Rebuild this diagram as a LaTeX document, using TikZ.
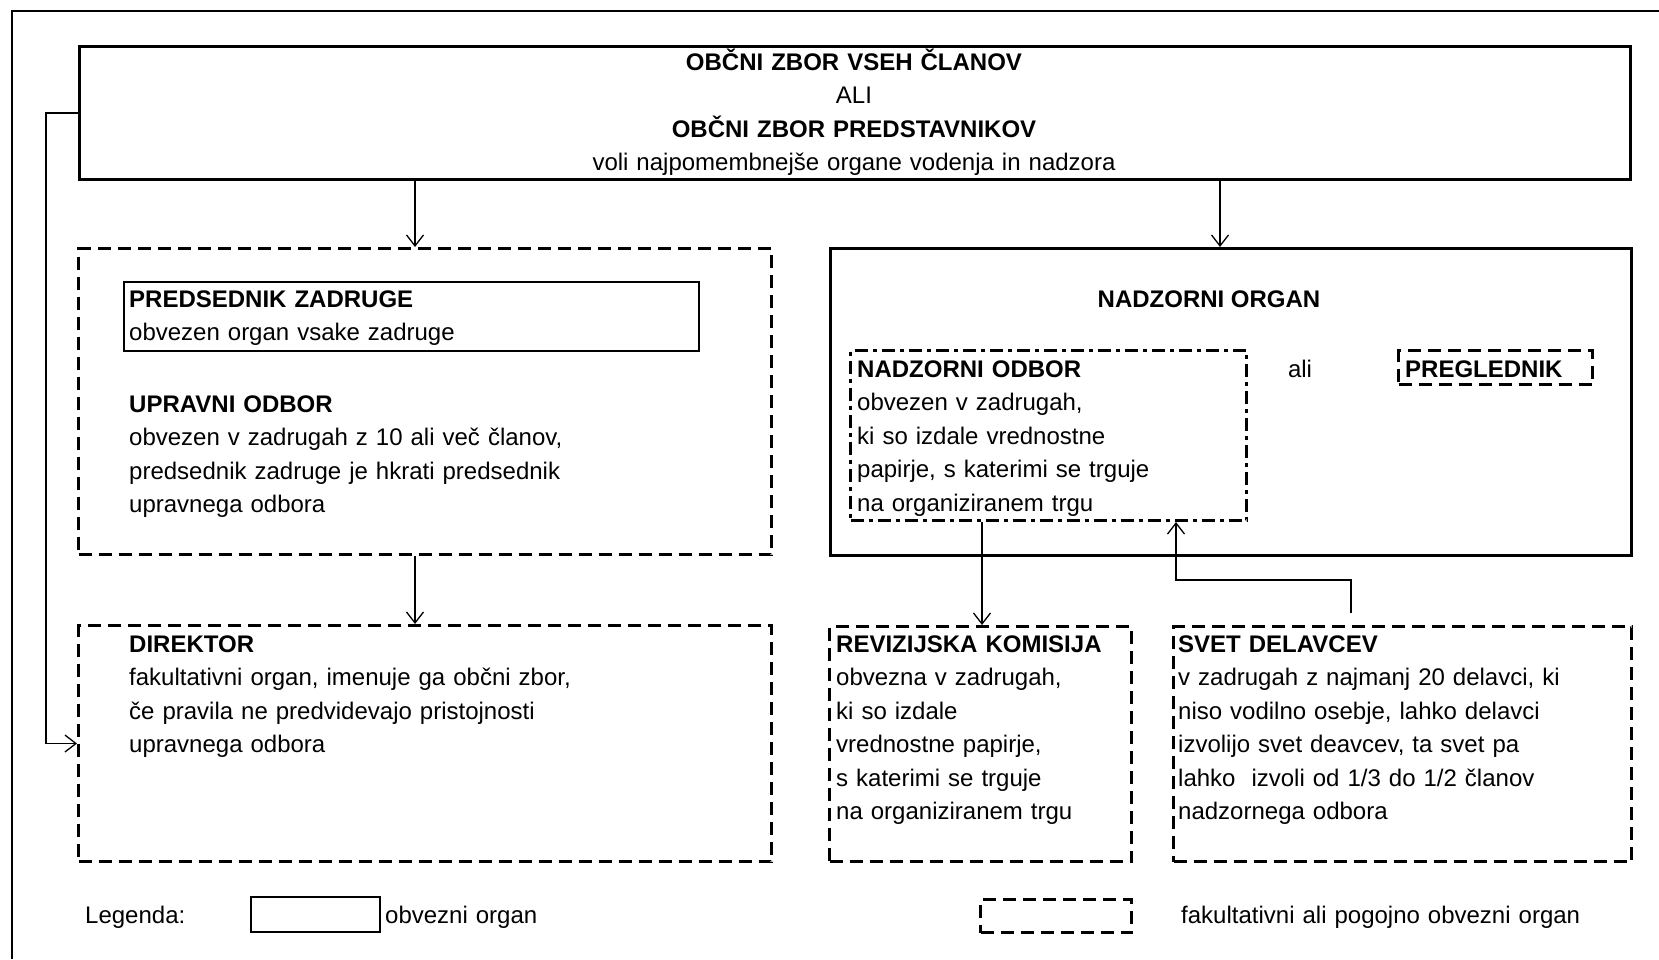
\documentclass[tikz,border=0pt]{standalone}
\usepackage{fontspec}
\setmainfont{Liberation Sans}
\usetikzlibrary{calc,arrows.meta}
\newcommand{\Lw}{3pt}
\tikzset{Obvezni/.style={
    inner sep=0pt,
    anchor=north west,
    draw=black,
    line width=\Lw,
    },
  Pogojni/.style={
    Obvezni,
    dash pattern=on 13pt off 7pt,
    },
  Crtapika/.style={
    Obvezni,
    dash pattern=on 13pt off 5pt on 4pt off 5pt,
    },
}

\begin{document}
\begin{tikzpicture}[x=1pt, y=-1pt,
    font=\fontsize{24}{33.5}\selectfont,
    txt/.style={inner sep=0pt, anchor=base west, align=left, text width=#1},
    povezava/.style={line width=1.3pt, -{Straight Barb[length=11pt,width=17pt]}},
]
\useasboundingbox (0,0) rectangle (1659,959);
\draw[line width=2.5pt] (12,959) |- (1659,11);
% obcni zbor
\node [Obvezni, minimum width=1551, minimum height=133] (zbor) at (78,45) {};
\node [txt=1400, align=center, anchor=base] (zbortxt) at (854,70)
  {\textbf{OBČNI ZBOR VSEH ČLANOV}\\ALI\\\textbf{OBČNI ZBOR PREDSTAVNIKOV}\\voli najpomembnejše organe vodenja in nadzora};
% vodenje
\node [Pogojni, minimum width=693, minimum height=306] (uprava) at (77,247) {};
\node [Obvezni, line width=2pt, minimum width=575, minimum height=69] (predsednik) at (123,281) {};
\node [txt=560] (predsedniktxt) at (129,307)
  {\textbf{PREDSEDNIK ZADRUGE}\\obvezen organ vsake zadruge};
\node [txt=600] (upravatxt) at (129,412)
  {\textbf{UPRAVNI ODBOR}\\obvezen v zadrugah z 10 ali več članov,\\predsednik zadruge je hkrati predsednik\\upravnega odbora};
\node [Pogojni, minimum width=693, minimum height=236] (direktor) at (77,624) {};
\node [txt=600] (direktortxt) at (129,652)
  {\textbf{DIREKTOR}\\fakultativni organ, imenuje ga občni zbor,\\če pravila ne predvidevajo pristojnosti\\upravnega odbora};
% nadzor
\node [Obvezni, minimum width=801, minimum height=307] (nadzor) at (829,247) {};
\node [inner sep=0pt, anchor=base] (nadzortxt) at (1209,307) {\textbf{NADZORNI ORGAN}};
\node [Crtapika, minimum width=396, minimum height=170] (odbor) at (849,349) {};
\node [txt=380] (odbortxt) at (857,377)
  {\textbf{NADZORNI ODBOR}\\obvezen v zadrugah,\\ki so izdale vrednostne\\papirje, s katerimi se trguje\\na organiziranem trgu};
\node [inner sep=0pt, anchor=base] (ali) at (1300,377) {ali};
\node [Pogojni, minimum width=194, minimum height=34] (preglednik) at (1397,349) {};
\node [txt=180] (pregledniktxt) at (1405,377) {\textbf{PREGLEDNIK}};
\node [Pogojni, minimum width=302, minimum height=235] (revizija) at (828,625) {};
\node [txt=300] (revizijatxt) at (836,652)
  {\textbf{REVIZIJSKA KOMISIJA}\\obvezna v zadrugah,\\ki so izdale\\vrednostne papirje,\\s katerimi se trguje\\na organiziranem trgu};
\node [Pogojni, minimum width=458, minimum height=235] (svet) at (1172,625) {};
\node [txt=460] (svettxt) at (1178,652)
  {\textbf{SVET DELAVCEV}\\v zadrugah z najmanj 20 delavci, ki\\niso vodilno osebje, lahko delavci\\izvolijo svet deavcev, ta svet pa\\lahko\ \ izvoli od 1/3 do 1/2 članov\\nadzornega odbora};
% legenda
\node [txt=200] (legenda) at (85,923) {Legenda:};
\node [Obvezni, line width=2pt, minimum width=129, minimum height=35] (legobv) at (250,896) {};
\node [txt=200] (legobvtxt) at (385,923) {obvezni organ};
\node [Pogojni, minimum width=151, minimum height=33] (legpog) at (979,898) {};
\node [txt=460] (legpogtxt) at (1181,923) {fakultativni ali pogojno obvezni organ};
% povezave
\coordinate (k1) at (415,0);
\coordinate (k2) at (1220,0);
\coordinate (k3) at (982,0);
\coordinate (k4) at (1351,0);
\coordinate (koleno) at (1176,580);
\coordinate (tir) at (46,0);
\draw [povezava] (zbor.south -| k1) -- (uprava.north -| k1);
\draw [povezava] (zbor.south -| k2) -- (nadzor.north -| k2);
\draw [povezava] (uprava.south -| k1) -- (direktor.north -| k1);
\draw [povezava] (odbor.south -| k3) -- (revizija.north -| k3);
\draw [povezava] ($(svet.north -| k4)+(0,-12)$) |- (koleno) -- (odbor.south -| koleno);
\draw [povezava] (zbor.west) -- (zbor.west -| tir) |- (direktor.west);
\end{tikzpicture}
\end{document}
